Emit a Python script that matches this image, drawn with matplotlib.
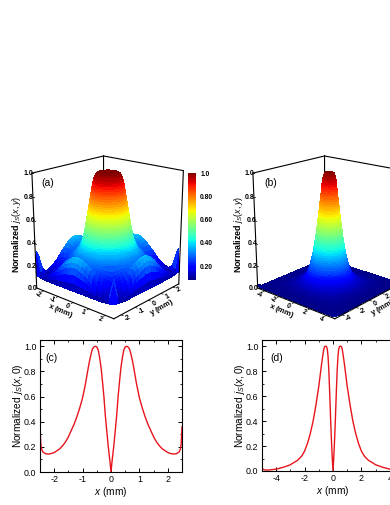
import numpy as np
import matplotlib
matplotlib.use("Agg")
import matplotlib.pyplot as plt
from matplotlib.cm import ScalarMappable
from matplotlib.colors import Normalize

plt.rcParams['font.family'] = ['Liberation Sans', 'DejaVu Sans']
plt.rcParams['mathtext.fontset'] = 'custom'
plt.rcParams['mathtext.rm'] = 'Liberation Sans'
plt.rcParams['mathtext.it'] = 'Liberation Sans:italic'
plt.rcParams['mathtext.bf'] = 'Liberation Sans:bold'
plt.rcParams['axes.linewidth'] = 0.8
plt.rcParams['axes.unicode_minus'] = False

W, H = 390, 505

# line cuts, right half (the curves are mirrored about x = 0)
xc = [0, 0.03, 0.06, 0.1, 0.15, 0.2, 0.25, 0.3, 0.35, 0.4, 0.45, 0.5, 0.55, 0.6, 0.65, 0.7, 0.75, 0.8, 0.9,
      1.0, 1.1, 1.2, 1.3, 1.4, 1.5, 1.6, 1.7, 1.8, 1.9, 2.0, 2.1, 2.2, 2.3, 2.4, 2.44, 2.47, 2.5]
yc = [0, 0.07, 0.13, 0.21, 0.33, 0.45, 0.6, 0.72, 0.83, 0.91, 0.97, 0.995, 1.0, 0.995, 0.98, 0.94, 0.89, 0.83, 0.7,
      0.59, 0.51, 0.44, 0.38, 0.33, 0.28, 0.24, 0.21, 0.185, 0.17, 0.155, 0.147, 0.143, 0.145, 0.16, 0.18, 0.22, 0.36]
xd = [0, 0.05, 0.1, 0.15, 0.2, 0.25, 0.3, 0.35, 0.4, 0.45, 0.5, 0.55, 0.6, 0.65, 0.7, 0.8, 0.9, 1.0, 1.2, 1.4,
      1.6, 1.8, 2.0, 2.2, 2.5, 2.8, 3.0, 3.5, 4.0, 4.5, 4.8, 4.95, 5.0]
yd = [0, 0.1, 0.22, 0.36, 0.52, 0.68, 0.82, 0.92, 0.975, 0.995, 1.0, 1.0, 0.995, 0.975, 0.94, 0.86, 0.77, 0.68, 0.53, 0.4,
      0.3, 0.22, 0.16, 0.12, 0.085, 0.065, 0.05, 0.03, 0.015, 0.008, 0.008, 0.015, 0.03]

# surface (a): plateau rings, then outer rings along rays from corner (0) to edge middle (45)
r_a = [0, .3, .5, .57, .62, .67, .70, .725, .75, .77, .79, .81, .83, .85, .87, .89, .91, .93, .95, .97, .99,
       1.01, 1.03, 1.05, 1.07, 1.09, 1.11, 1.13, 1.15, 1.175, 1.2, 1.23, 1.27, 1.32, 1.37, 1.44, 1.5, 1.56, 1.62, 1.7]
z_a = [1, 1, .995, .985, .97, .95, .93, .91, .89, .87, .85, .83, .81, .79, .77, .75, .73, .71, .69, .67, .65,
       .63, .61, .59, .57, .55, .53, .51, .49, .47, .45, .43, .41, .39, .37, .35, .335, .32, .31, .30]
phi = [0, 3, 6, 10, 15, 20, 25, 30, 35, 40, 45]
t_out = [.1, .2, .3, .4, .5, .6, .7, .8, .87, .92, .96, 1]
z_out_a = [[.26, .23, .205, .18, .16, .14, .12, .105, .14, .30, .33, .12],
           [.26, .235, .21, .185, .165, .145, .125, .11, .12, .17, .16, .11],
           [.265, .24, .22, .20, .18, .16, .14, .125, .125, .13, .12, .105],
           [.27, .25, .23, .215, .20, .185, .17, .155, .15, .14, .12, .10],
           [.275, .26, .245, .235, .23, .225, .21, .195, .18, .16, .13, .10],
           [.28, .27, .26, .26, .26, .26, .25, .235, .21, .18, .14, .10],
           [.285, .28, .28, .285, .29, .295, .29, .27, .24, .20, .15, .10],
           [.29, .29, .30, .31, .32, .325, .32, .30, .265, .215, .155, .10],
           [.295, .30, .315, .33, .34, .35, .345, .32, .28, .225, .16, .10],
           [.30, .31, .325, .34, .355, .365, .36, .335, .295, .235, .165, .10],
           [.30, .31, .33, .345, .36, .37, .365, .34, .30, .24, .17, .10]]

# surface (b)
r_b = [0, .3, .45, .55, .60, .64, .67, .695, .72, .745, .77, .80, .825, .85, .88, .905, .93, .96, .985, 1.01, 1.04,
       1.07, 1.10, 1.13, 1.16, 1.19, 1.22, 1.25, 1.28, 1.31, 1.35, 1.38, 1.42, 1.46, 1.5, 1.54, 1.58, 1.63, 1.68,
       1.73, 1.79, 1.85, 1.92, 2.0, 2.08, 2.18, 2.3, 2.45, 2.65, 3.0]
z_b = [1, 1, .99, .97, .95, .93, .91, .89, .87, .85, .83, .81, .79, .77, .75, .73, .71, .69, .67, .65, .63,
       .61, .59, .57, .55, .53, .51, .49, .47, .45, .43, .41, .39, .37, .35, .33, .31, .29, .27,
       .25, .23, .21, .19, .17, .15, .13, .11, .09, .07, .05]
row_b = [.04, .03, .025, .02, .016, .014, .012, .01, .01, .01, .01, .01]
row_b_corner = [.04, .03, .025, .02, .016, .014, .012, .01, .012, .02, .03, .02]
z_out_b = [row_b_corner] + [row_b] * 10

cbar_ticks = [0.2, 0.4, 0.6, 0.8, 1.0]
cbar_labels = ['0.20', '0.40', '0.60', '0.80', '1.0']
z_ticks = [0, 0.2, 0.4, 0.6, 0.8, 1.0]


def px(x, y):
    return x / W, 1 - y / H


def add_box(x0, y0, x1, y1, **kw):
    return fig.add_axes([x0 / W, 1 - y1 / H, (x1 - x0) / W, (y1 - y0) / H], **kw)


def build_surface(L, r_in, z_in, z_out):
    # quarter of the table is mirrored round the square
    q = list(phi) + [90 - p for p in phi[-2:0:-1]]
    rows = list(z_out) + [z_out[i] for i in range(len(phi) - 2, 0, -1)]
    ang = []
    z_rows = []
    for k in range(4):
        ang += [p + 90 * k + 45 for p in q]
        z_rows += rows
    ang.append(ang[0] + 360)
    z_rows.append(rows[0])
    th = np.radians(ang)
    edge = L / np.maximum(np.abs(np.cos(th)), np.abs(np.sin(th)))
    rin = np.array(r_in)
    rad = np.tile(rin, (len(th), 1))
    out = rin[-1] + np.outer(edge - rin[-1], t_out)
    rad = np.hstack([rad, out])
    Z = np.hstack([np.tile(z_in, (len(th), 1)), np.array(z_rows)])
    X = rad * np.cos(th)[:, None]
    Y = rad * np.sin(th)[:, None]
    return X, Y, Z


def surface_panel(box, L, ticks, data, vmin, ylabel_xy, tag, tag_xy):
    ax = add_box(*box, projection='3d', computed_zorder=False)
    ax.patch.set_alpha(0)
    ax.set_proj_type('persp', focal_length=0.55)
    ax.view_init(elev=19, azim=-49)
    ax.set_box_aspect((1, 1, 1.16), zoom=0.9)
    ax.set_xlim(-L, L)
    ax.set_ylim(-L, L)
    ax.set_zlim(0, 1)
    ax.set_axis_off()

    X, Y, Z = build_surface(L, *data)
    ax.plot_surface(X, Y, Z, cmap='jet', vmin=vmin, vmax=1, rstride=1, cstride=1, linewidth=0,
                    antialiased=False, shade=False, zorder=2)

    lk = dict(color='k', lw=0.8)
    for a, b in [((-L, -L, 1), (-L, L, 1)), ((-L, L, 1), (L, L, 1)), ((-L, L, 0), (-L, L, 1))]:
        ax.plot(*zip(a, b), zorder=1, **lk)
    for a, b in [((-L, -L, 0), (L, -L, 0)), ((L, -L, 0), (L, L, 0)), ((-L, -L, 0), (-L, -L, 1)), ((L, L, 0), (L, L, 1))]:
        ax.plot(*zip(a, b), zorder=3, **lk)

    d = 0.05 * L
    tk = dict(fontsize=5, fontweight='bold', ha='center', va='center', zorder=4)
    for v in ticks:
        ax.plot([v, v], [-L, -L - d], [0, 0], color='k', lw=0.5, zorder=3)
        ax.plot([L, L + d], [v, v], [0, 0], color='k', lw=0.5, zorder=3)
        ax.text(v, -L - 3 * d, -0.01, str(v), zdir=(1, 0, 0), **tk)
        ax.text(L + 3 * d, v, -0.01, str(v), zdir=(0, 1, 0), **tk)
    for v in z_ticks:
        ax.plot([-L, -L + d], [-L, -L], [v, v], color='k', lw=0.5, zorder=3)
        ax.text(-L - d, -L - d, v, '%.1f' % v, **tk)
    ax.text(0, -L - 6.5 * d, -0.02, r'$\mathbf{x}$ (mm)', zdir=(1, 0, 0), fontsize=5.5, fontweight='bold',
            ha='center', va='center', zorder=4)
    ax.text(L + 6.5 * d, 0, -0.02, r'$\mathbf{y}$ (mm)', zdir=(0, 1, 0), fontsize=5.5, fontweight='bold',
            ha='center', va='center', zorder=4)

    fig.text(*px(*ylabel_xy), r'Normalized $\mathit{j}_S(x,y)$', rotation=90, fontsize=6.4, fontweight='bold',
             ha='center', va='center')
    fig.text(*px(*tag_xy), tag, fontsize=7.5, ha='center', va='center')


def line_panel(box, x_half, y_half, xlim, xticks, xminor, tag, tag_xy):
    ax = add_box(*box)
    x = np.concatenate([-np.array(x_half[:0:-1]), x_half])
    y = np.concatenate([y_half[:0:-1], y_half])
    ax.plot(x, y, color='#e8141c', lw=1.0)
    ax.set_xlim(*xlim)
    ax.set_ylim(0, 1.05)
    ax.set_xticks(xticks)
    ax.set_xticks(xminor, minor=True)
    ax.set_yticks([0, 0.2, 0.4, 0.6, 0.8, 1.0])
    ax.set_yticks([0.1, 0.3, 0.5, 0.7, 0.9], minor=True)
    ax.tick_params(which='major', direction='in', top=True, right=True, length=2.6, width=0.7, labelsize=6.4, pad=2.5)
    ax.tick_params(which='minor', direction='in', top=True, right=True, length=1.4, width=0.6)
    ax.set_xlabel(r'$\mathit{x}$ (mm)', fontsize=7.3, labelpad=0.5)
    ax.set_ylabel(r'Normalized $\mathit{j}_S(x,0)$', fontsize=7.3, labelpad=-1)
    ax.text(*tag_xy, tag, transform=ax.transAxes, fontsize=7.5, ha='center', va='center')


fig = plt.figure(figsize=(W / 100, H / 100), dpi=100)

surface_panel((-2, 131, 213, 336), 2.5, [-2, -1, 0, 1, 2], (r_a, z_a, z_out_a), 0.08, (17, 235), '(a)', (48, 183))
surface_panel((219, 131, 434, 336), 5, [-4, -2, 0, 2, 4], (r_b, z_b, z_out_b), 0, (238, 235), '(b)', (271, 183))

cax = add_box(188, 173, 196, 280)
cb = fig.colorbar(ScalarMappable(Normalize(0.08, 1), 'jet'), cax=cax, ticks=cbar_ticks)
cb.ax.set_yticklabels(cbar_labels, fontsize=4.8, fontweight='bold')
cb.ax.tick_params(length=0, pad=3)
cb.outline.set_visible(False)

line_panel((40, 340, 182, 472), xc, yc, (-2.5, 2.5), [-2, -1, 0, 1, 2], [-1.5, -0.5, 0.5, 1.5], '(c)', (0.08, 0.86))
line_panel((262, 340, 404, 471), xd, yd, (-5, 5), [-4, -2, 0, 2, 4], [-3, -1, 1, 3], '(d)', (0.105, 0.86))

fig.savefig('out.png', dpi=100)
